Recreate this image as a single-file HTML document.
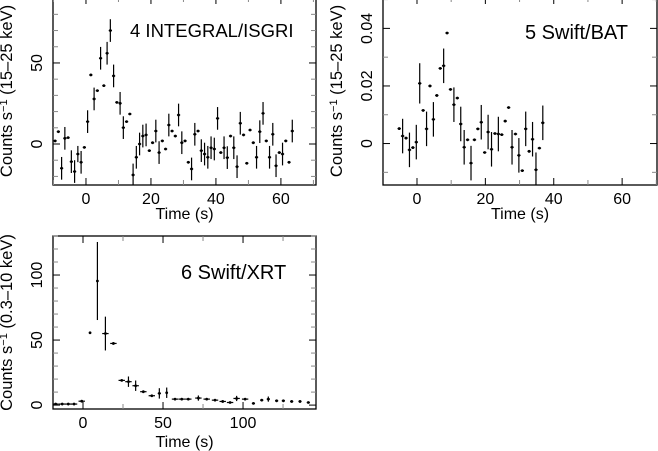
<!DOCTYPE html>
<html><head><meta charset="utf-8"><style>
body{margin:0;background:#fff;}
svg{display:block;font-family:"Liberation Sans",sans-serif;}
</style></head><body>
<svg id="c" width="658" height="451"></svg>
<script>
// Panel 4 INTEGRAL/ISGRI
const isgriT0 = -9.5;
const isgriRate = [1.9,7.6,-15,3.5,3.9,-10.9,-17,-6.2,-11.3,-2.1,13.8,42.6,27.8,32.9,52.9,36,56,70,42,25.7,25.1,10.1,13.8,18.5,-19.1,-8.2,0,4.9,5.6,-4.1,0.8,8,-5.3,1.9,-3.1,11.7,8,4.9,17.9,0.8,1.9,-11.3,-15.4,6,8,-4.1,-6.2,-8.2,-2.3,-3.1,15.8,-5.3,-2.3,-8.4,4.9,-2.3,-14,12.8,5.6,-11.9,8.6,0.8,-8.2,7.6,18.9,1.9,-8.2,6,-13.4,-5.3,-6.2,1.9,-11.3,8];
const isgriErr = [0,0,7,7,0,7,7,5,7,0,7,0,7,0,7,0,7,7,7,0,7,7,0,0,7,7,7,7,7,0,0,7,7,0,0,7,0,0,7,7,0,0,7,7,0,7,7,7,7,7,7,0,7,7,0,7,7,7,0,0,0,0,7,7,7,0,7,7,7,0,7,0,0,7];
// Panel 5 Swift/BAT
const batT0 = -5.2;
const batRate = [5.2,2.6,1.9,-2.2,-1.4,0.5,20.9,11.5,5.1,20,8.4,16.7,26.1,27,38.4,18.8,13.5,15.8,6.8,-1.3,1.3,-6.8,1.3,5.1,7.4,-3.1,4,-2,3.5,3.3,3.1,7.8,12.5,-1.3,3.3,-4.1,-9.4,5.1,-2.7,1.5,-9.1,-1.6,7.2];
const batErr = [0,6,0,6,0,6,7,0,6,0,6,0,0,6,0,0,6,0,6,6,0,6,0,0,6,0,6,6,0,6,0,0,0,6,0,6,0,6,0,6,6,0,6];
// Panel 6 Swift/XRT
const xrtT = [-17.1,-13,-9.2,-5.6,-0.8,4.4,9,14,19,24.2,28.4,32.9,37.7,43,47.7,52.3,57.5,61.7,65.8,72.1,77.3,82.5,87.3,91.9,96,101.3,106.5,111.7,115.8,121,125.2,130.4,135.6,140.8];
const xrtRate = [0.8,0.8,0.8,0.8,3,55.6,95.4,55,47.4,19,18,14.9,10.3,7.2,9,9.5,4.6,4.6,4.6,5.4,4.6,3.8,2.8,2,5.1,4.6,1.3,3.8,4.6,3.3,3.3,2.8,2.8,2];
const xrtErr = [0,0,0,0,0,0,30,13,0,0,4,4,0,0,4,4,0,0,0,2,0,0,0,0,2,0,0,0,2,0,0,0,0,0];
const xrtXerr = [2,2,2,2,2,0.5,0.5,2,2,2,2,2,2,2,1,0.5,2,2,2,2,2,2,2,2,2,2,1,1,1,1,1,1,1,1];

const NS="http://www.w3.org/2000/svg";
const svg=document.getElementById('c');
function mk(tag,attrs,parent){const e=document.createElementNS(NS,tag);for(const k in attrs)e.setAttribute(k,attrs[k]);(parent||svg).appendChild(e);return e;}

function panel(o){
  const g=mk('g',{});
  
  
  const sx=v=>o.x0+(v-o.xmin)/(o.xmax-o.xmin)*(o.x1-o.x0);
  const sy=v=>o.y1-(v-o.ymin)/(o.ymax-o.ymin)*(o.y1-o.y0);
  const fr=mk('rect',{x:o.x0,y:o.y0,width:o.x1-o.x0,height:o.y1-o.y0,fill:'none',stroke:'#000','stroke-width':1.3},g);
  
  
  for(let v=Math.ceil(o.xmin/o.xminor)*o.xminor;v<=o.xmax;v+=o.xminor){
    const X=sx(v);const maj=Math.abs(v/o.xmajor-Math.round(v/o.xmajor))<1e-6;
    const L=maj?7:5;const col=maj?'#000':'#888';
    mk('line',{x1:X,x2:X,y1:o.y1,y2:o.y1-L,stroke:col},g);
    mk('line',{x1:X,x2:X,y1:o.y0,y2:o.y0+L,stroke:col},g);
    if(maj){const t=mk('text',{x:X,y:o.y1+19,'text-anchor':'middle','font-size':16},g);t.textContent=v;
      }
  }
  for(let v=Math.ceil(o.ymin/o.yminor-1e-9)*o.yminor;v<=o.ymax;v+=o.yminor){
    const Y=sy(v);const maj=Math.abs(v/o.ymajor-Math.round(v/o.ymajor))<1e-6;
    const L=maj?7:5;const col=maj?'#000':'#888';
    mk('line',{x1:o.x0,x2:o.x0+L,y1:Y,y2:Y,stroke:col},g);
    mk('line',{x1:o.x1,x2:o.x1-L,y1:Y,y2:Y,stroke:col},g);
    if(maj&&o.ylabels){const lab=o.yfmt(v);const t=mk('text',{x:o.x0-11,y:Y,'text-anchor':'middle','font-size':16,transform:`rotate(-90 ${o.x0-11} ${Y})`},g);t.textContent=lab;
      }
  }
  const xt=mk('text',{x:(o.x0+o.x1)/2,y:o.y1+o.tOff,'text-anchor':'middle','font-size':16},g);xt.textContent='Time (s)';
  
  const cy=(o.y0+o.y1)/2;const yx=o.x0-41;
  const yt=mk('text',{x:yx,y:cy,'text-anchor':'middle','font-size':16.5,transform:`rotate(-90 ${yx} ${cy})`},g);
  yt.innerHTML=o.ytitle;
  
  const ti=mk('text',{x:o.tx,y:o.ty,'font-size':o.tfs},g);ti.textContent=o.title;
  
  const clip='clip'+o.name;
  const cp=mk('clipPath',{id:clip},g);mk('rect',{x:o.x0,y:o.y0,width:o.x1-o.x0,height:o.y1-o.y0},cp);
  const dg=mk('g',{'clip-path':`url(#${clip})`},g);
  for(let i=0;i<o.t.length;i++){
    const X=sx(o.t[i]),Y=sy(o.r[i]*o.scale);
    const p=mk('g',{},dg);
    
    
    if(o.e[i]>0)mk('line',{x1:X,x2:X,y1:sy((o.r[i]+o.e[i])*o.scale),y2:sy((o.r[i]-o.e[i])*o.scale),stroke:'#000','stroke-width':1.2},p);
    const xe=o.xe?o.xe[i]:0.5;
    mk('line',{x1:sx(o.t[i]-xe),x2:sx(o.t[i]+xe),y1:Y,y2:Y,stroke:'#000','stroke-width':1.2},p);
    mk('circle',{cx:X,cy:Y,r:1.4,fill:'#000'},p);
  }
}
panel({name:'isgri-panel',x0:53,x1:316,y0:-3,y1:185,xmin:-10.15,xmax:70.8,ymin:-25.3,ymax:90.7,
  xmajor:20,xminor:10,ymajor:50,yminor:10,ylabels:true,yfmt:v=>v,scale:1,tOff:34,
  t:isgriRate.map((_,i)=>isgriT0+i),r:isgriRate,e:isgriErr,
  ytitle:'Counts s<tspan dy="-5" font-size="11">−1</tspan><tspan dy="5"> (15–25 keV)</tspan>',title:'4 INTEGRAL/ISGRI',tx:130,ty:37,tfs:18.5});
panel({name:'bat-panel',x0:383,x1:657,y0:-3,y1:185,xmin:-9.94,xmax:70.2,ymin:-14.4,ymax:50.9,
  xmajor:20,xminor:10,ymajor:20,yminor:10,ylabels:true,yfmt:v=>v===0?'0':(v/1000).toFixed(2),scale:1,tOff:34,
  t:batRate.map((_,i)=>batT0+i),r:batRate,e:batErr,
  ytitle:'Counts s<tspan dy="-5" font-size="11">−1</tspan><tspan dy="5"> (15–25 keV)</tspan>',title:'5 Swift/BAT',tx:525,ty:39,tfs:20});
panel({name:'xrt-panel',x0:53,x1:316,y0:236,y1:409,xmin:-18.75,xmax:145.6,ymin:-3,ymax:130,
  xmajor:50,xminor:25,ymajor:50,yminor:10,ylabels:true,yfmt:v=>v,scale:1,tOff:38,
  t:xrtT,r:xrtRate,e:xrtErr,xe:xrtXerr,
  ytitle:'Counts s<tspan dy="-5" font-size="11">−1</tspan><tspan dy="5"> (0.3–10 keV)</tspan>',title:'6 Swift/XRT',tx:181,ty:279,tfs:20});
</script>
</body></html>
